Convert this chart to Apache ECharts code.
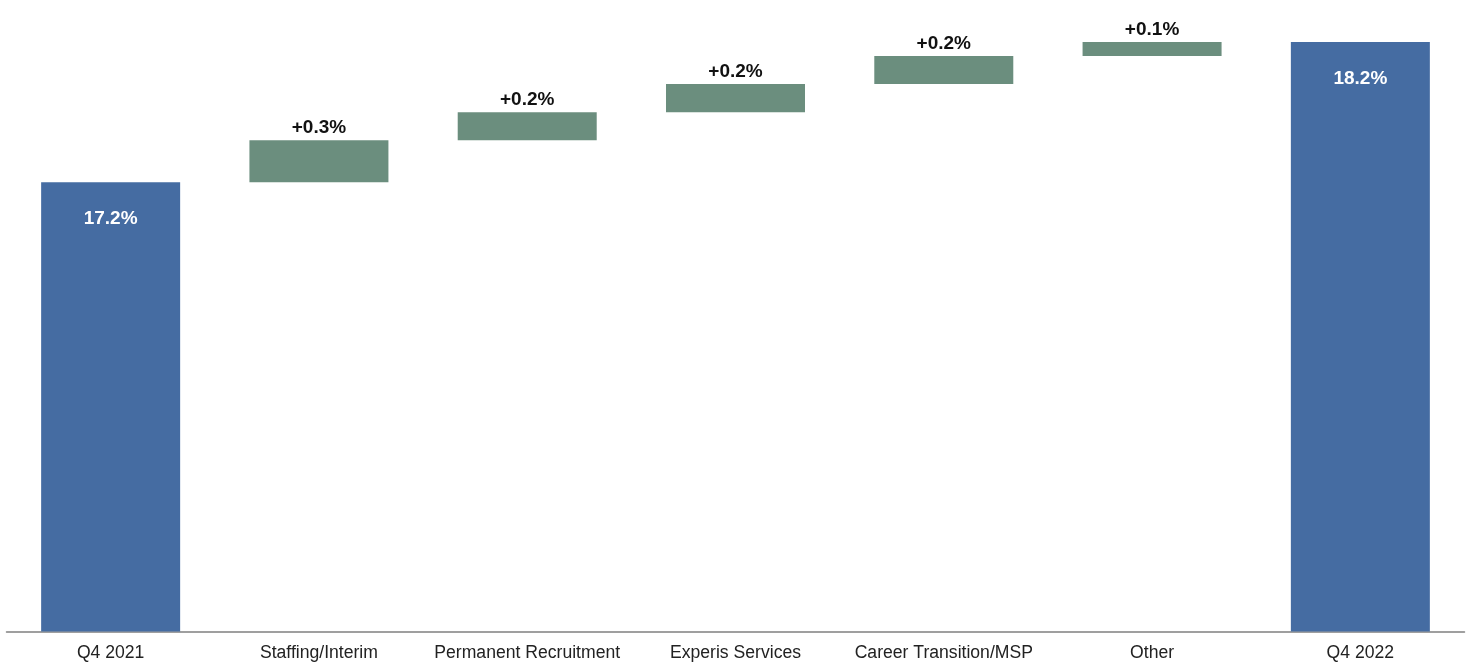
<!DOCTYPE html>
<html>
<head>
<meta charset="utf-8">
<script src="https://cdn.jsdelivr.net/npm/echarts@6/dist/echarts.min.js"></script>
<style>
html,body{margin:0;padding:0;background:#fff;}
#c{width:1471px;height:669px;}
</style>
</head>
<body>
<div id="c"></div>
<script>
var categories = ['Q4 2021', 'Staffing/Interim', 'Permanent Recruitment', 'Experis Services', 'Career Transition/MSP', 'Other', 'Q4 2022'];
var startValue = 17.2;
var deltas = [0.3, 0.2, 0.2, 0.2, 0.1];
var endValue = 18.2;

var BLUE = '#456ca2';
var GREEN = '#6b8e7e';

var helper = [0];
var visible = [];
var cum = startValue;
visible.push({
  value: startValue,
  itemStyle: {color: BLUE},
  label: {show: true, position: 'insideTop', distance: 27, color: '#fff', formatter: startValue.toFixed(1) + '%'}
});
deltas.forEach(function (d) {
  helper.push(+cum.toFixed(4));
  visible.push({
    value: d,
    itemStyle: {color: GREEN},
    label: {show: true, position: 'top', distance: 3, color: '#111', formatter: '+' + d.toFixed(1) + '%'}
  });
  cum += d;
});
helper.push(0);
visible.push({
  value: endValue,
  itemStyle: {color: BLUE},
  label: {show: true, position: 'insideTop', distance: 27, color: '#fff', formatter: endValue.toFixed(1) + '%'}
});

var chart = echarts.init(document.getElementById('c'), null, {renderer: 'canvas'});
chart.setOption({
  animation: false,
  backgroundColor: '#fff',
  grid: {left: 6.5, right: 6.5, top: 42, bottom: 37.5, containLabel: false},
  xAxis: {
    type: 'category',
    data: categories,
    axisLine: {show: true, lineStyle: {color: '#808080', width: 1.5}},
    axisTick: {show: false},
    axisLabel: {
      interval: 0, margin: 13, color: '#222',
      fontFamily: 'Liberation Sans, Arial, sans-serif', fontSize: 17.6
    }
  },
  yAxis: {
    type: 'value', min: 14, max: 18.2,
    show: false,
    splitLine: {show: false}
  },
  series: [
    {
      type: 'bar', stack: 'w', data: helper, barWidth: 139,
      itemStyle: {color: 'transparent'}, silent: true
    },
    {
      type: 'bar', stack: 'w', data: visible, barWidth: 139,
      label: {
        show: true, fontFamily: 'Liberation Sans, Arial, sans-serif',
        fontSize: 19, fontWeight: 'bold'
      }
    }
  ]
});
</script>
</body>
</html>
